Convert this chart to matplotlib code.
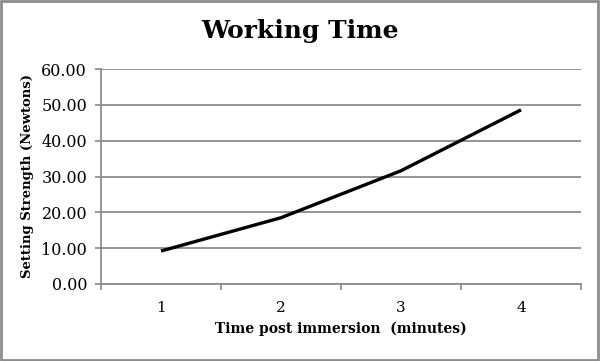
import numpy as np
import matplotlib.pyplot as plt
from matplotlib.patches import Rectangle

minutes = [1, 2, 3, 4]
strength = [9.2, 18.5, 31.6, 48.6]
y_ticks = [0, 10, 20, 30, 40, 50, 60]

plt.rcParams['font.family'] = ['DejaVu Serif']

fig = plt.figure(figsize=(6, 3.61), dpi=100)
ax = fig.add_axes([101/600, 1 - 284/361, 480/600, 215/361])

ax.plot(minutes, strength, color='black', lw=2.4, solid_capstyle='butt')

ax.set_xlim(0.5, 4.5)
ax.set_ylim(0, 60)
ax.set_yticks(y_ticks)
ax.set_yticklabels(['%.2f' % v for v in y_ticks])
ax.set_xticks(minutes)
ax.set_xticks([0.5, 1.5, 2.5, 3.5, 4.5], minor=True)
ax.tick_params(axis='x', which='major', length=0, pad=12, labelsize=11)
ax.tick_params(axis='x', which='minor', length=4, width=1.2, color='#888888')
ax.tick_params(axis='y', length=4, width=1.2, color='#888888', labelsize=11.5, pad=6)

ax.grid(axis='y', color='#8c8c8c', lw=1.3)
ax.set_axisbelow(True)
for s in ['top', 'right']:
    ax.spines[s].set_visible(False)
ax.spines['left'].set_color('#8c8c8c')
ax.spines['bottom'].set_color('#8c8c8c')
ax.spines['left'].set_linewidth(1.3)
ax.spines['bottom'].set_linewidth(1.3)

ax.set_xlabel('Time post immersion  (minutes)', fontweight='bold', fontsize=10, labelpad=5)
ax.set_ylabel('Setting Strength (Newtons)', fontweight='bold', fontsize=9.5, labelpad=5)
fig.text(0.5, 1 - 31/361, 'Working Time', ha='center', va='center',
         fontweight='bold', fontsize=18)

fig.patches.append(Rectangle((0.002, 0.003), 0.995, 0.993, transform=fig.transFigure,
                             fill=False, edgecolor='#8c8c8c', lw=2))

fig.savefig('out.png', dpi=100)
